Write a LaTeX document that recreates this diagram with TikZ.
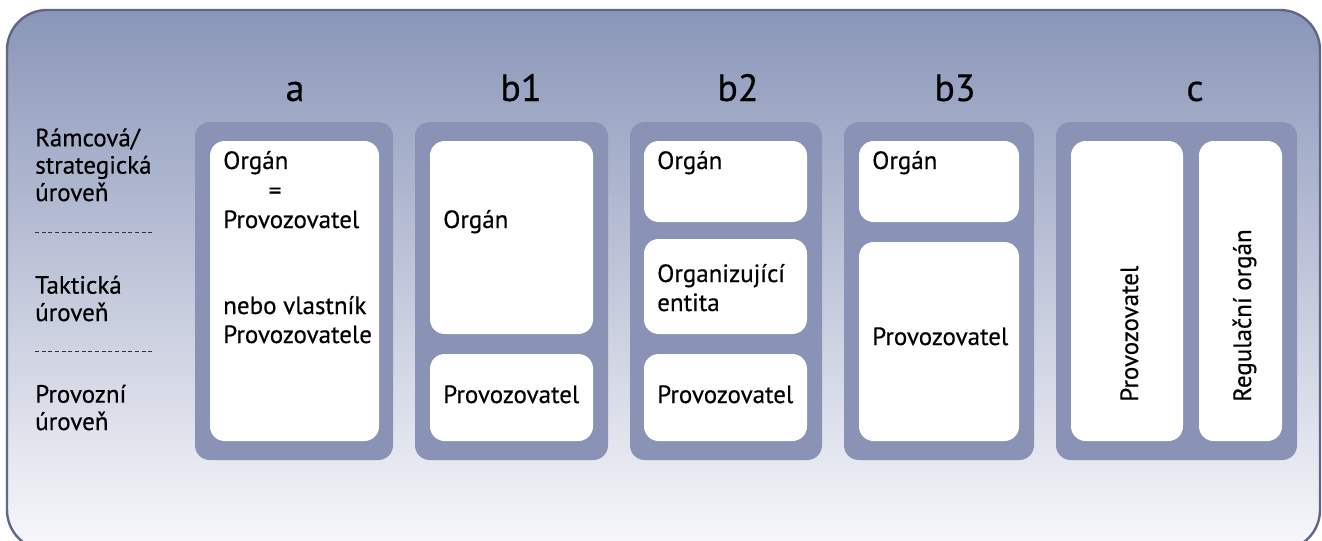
\documentclass[tikz,border=0pt]{standalone}
\usepackage{fontspec}
\setmainfont{PT Sans}[FakeBold=0.4]
\usepackage{tikz}

\definecolor{rimcol}{HTML}{5F6788}
\definecolor{topcol}{HTML}{8A96B9}
\definecolor{botcol}{HTML}{F8F8FB}
\definecolor{panelcol}{HTML}{8A93B5}

\tikzset{
  panel/.style={fill=panelcol, rounded corners=11pt},
  cell/.style={fill=white, rounded corners=11pt},
  txt/.style={anchor=base west, inner sep=0pt, font=\fontsize{18.75}{21.75}\selectfont, align=left},
  lvl/.style={anchor=base west, inner sep=0pt, font=\fontsize{18.75}{20.5}\selectfont, align=left},
  head/.style={anchor=base, inner sep=0pt, font=\fontsize{28.5}{34}\selectfont},
  sep/.style={black!80, line width=0.6pt, dash pattern=on 3pt off 2pt}
}

\begin{document}
\begin{tikzpicture}[x=0.75pt, y=-0.75pt]
    \clip (0,0) rectangle (1322,540);
    \draw[rimcol, line width=1.8pt, top color=topcol, bottom color=botcol, rounded corners=30pt] (7,10) rectangle (1320,550);

    % levels (multi-line nodes sit on their last line)
    \node[lvl] (lvlR) at (35,201) {Rámcová/\\strategická\\úroveň};
    \draw[sep] (35,232) -- (153,232);
    \node[lvl] (lvlT) at (35,321) {Taktická\\úroveň};
    \draw[sep] (35,351) -- (153,351);
    \node[lvl] (lvlP) at (35,430) {Provozní\\úroveň};

    % headers
    \node[head] (hA) at (295,101) {a};
    \node[head] (hB1) at (521,101) {b1};
    \node[head] (hB2) at (738,101) {b2};
    \node[head] (hB3) at (955,101) {b3};
    \node[head] (hC) at (1195,101) {c};

    % panels
    \fill[panel] (195,122) rectangle (393,460);
    \fill[panel] (415,122) rectangle (608,460);
    \fill[panel] (630,122) rectangle (822,460);
    \fill[panel] (844,122) rectangle (1034,460);
    \fill[panel] (1056,122) rectangle (1297,460);

    % a
    \fill[cell] (210,141) rectangle (379,441);
    \node[txt] (orgA) at (223,169) {Orgán};
    \node[txt, anchor=base] (eqA) at (275,199) {=};
    \node[txt] (provA) at (223,228) {Provozovatel};
    \node[txt] (ownA) at (223,343) {nebo vlastník\\Provozovatele};

    % b1
    \fill[cell] (430,141) rectangle (593,334);
    \fill[cell] (430,354) rectangle (593,441);
    \node[txt] (orgB1) at (443,228) {Orgán};
    \node[txt] (provB1) at (443,403) {Provozovatel};

    % b2
    \fill[cell] (644,141) rectangle (807,222);
    \fill[cell] (644,239) rectangle (807,334);
    \fill[cell] (644,354) rectangle (807,441);
    \node[txt] (orgB2) at (657,169) {Orgán};
    \node[txt] (entB2) at (657,311) {Organizující\\entita};
    \node[txt] (provB2) at (657,403) {Provozovatel};

    % b3
    \fill[cell] (859,141) rectangle (1019,222);
    \fill[cell] (859,242) rectangle (1019,441);
    \node[txt] (orgB3) at (872,169) {Orgán};
    \node[txt] (provB3) at (872,345) {Provozovatel};

    % c
    \fill[cell] (1071,141) rectangle (1183,441);
    \fill[cell] (1199,141) rectangle (1282,441);
    \node[txt, rotate=90] (provC) at (1138,402) {Provozovatel};
    \node[txt, rotate=90] (regC) at (1251,402) {Regulační orgán};
\end{tikzpicture}
\end{document}
